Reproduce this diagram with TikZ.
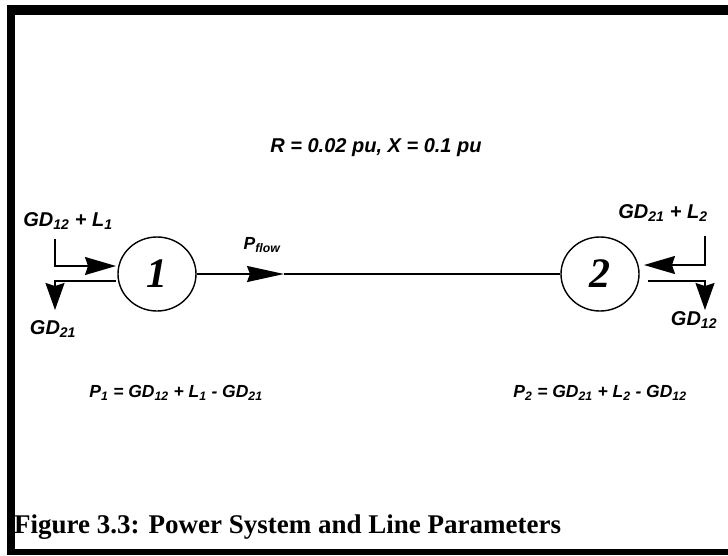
\documentclass[tikz,border=0pt]{standalone}
\usepackage{fontspec}
\setmainfont{Liberation Serif}
\newfontfamily\lblfont{Liberation Sans}
\usetikzlibrary{arrows.meta,shapes.geometric}
\begin{document}
\begin{tikzpicture}[x=1pt,y=-1pt,
  bus/.style={ellipse, draw, line width=1.4pt, minimum width=78pt, minimum height=74pt, inner sep=0pt,
    font=\fontsize{42}{42}\selectfont\bfseries\itshape},
  lbl/.style={font=\lblfont\bfseries\itshape\fontsize{20}{20}\selectfont, inner sep=0pt},
  eqn/.style={font=\lblfont\bfseries\itshape\fontsize{17.5}{17.5}\selectfont, inner sep=0pt},
  wire/.style={line width=1.6pt},
  farr/.style={wire, -{Stealth[length=37pt,width=16pt,inset=3pt]}},
  arr/.style={wire, -{Stealth[length=31pt,width=18pt,inset=3pt]}},
  darr/.style={wire, -{Stealth[length=27pt,width=19pt,inset=3pt]}},
  frame/.style={line width=#1, black}
]
\useasboundingbox (0,0) rectangle (728,555);
% frame
\draw[frame=10pt] (7,10) -- (728,10);
\draw[frame=8pt] (11,5) -- (11,555);
\draw[frame=6pt] (8,552) -- (728,552);

% buses
\node[bus] (c1) at (157,274) {1};
\node[bus] (c2) at (600,274) {2};
\coordinate (ftip) at (284,274);
\draw[farr] (c1) -- (ftip);
\draw[wire] (ftip) -- (c2);
\node[eqn] (pf) at (262,245) {P\textsubscript{flow}};

% left bus injections
\node[lbl] (g1) at (68,221) {GD\textsubscript{12} + L\textsubscript{1}};
\coordinate (l1a) at (55,239);
\coordinate (l1b) at (116,266);
\draw[arr] (l1a) |- (l1b);
\coordinate (l1c) at (116,281);
\coordinate (l1d) at (55,310);
\draw[darr] (l1c) -| (l1d);
\node[lbl] (g2) at (53,329) {GD\textsubscript{21}};

% right bus injections
\node[lbl] (g3) at (663,213) {GD\textsubscript{21} + L\textsubscript{2}};
\coordinate (r1a) at (705,236);
\coordinate (r1b) at (644,265);
\draw[arr] (r1a) |- (r1b);
\coordinate (r1c) at (648,281);
\coordinate (r1d) at (705,310);
\draw[darr] (r1c) -| (r1d);
\node[lbl] (g4) at (694,320) {GD\textsubscript{12}};

% parameters and equations
\node[lbl] (rx) at (376,148) {R = 0.02 pu, X = 0.1 pu};
\node[eqn] (e1) at (176,393) {P\textsubscript{1} = GD\textsubscript{12} + L\textsubscript{1} - GD\textsubscript{21}};
\node[eqn] (e2) at (600,393) {P\textsubscript{2} = GD\textsubscript{21} + L\textsubscript{2} - GD\textsubscript{12}};

% caption
\node[anchor=base west, inner sep=0pt, font=\bfseries\fontsize{27}{27}\selectfont] (cap) at (14,533) {Figure 3.3: Power System and Line Parameters};
\end{tikzpicture}
\end{document}
